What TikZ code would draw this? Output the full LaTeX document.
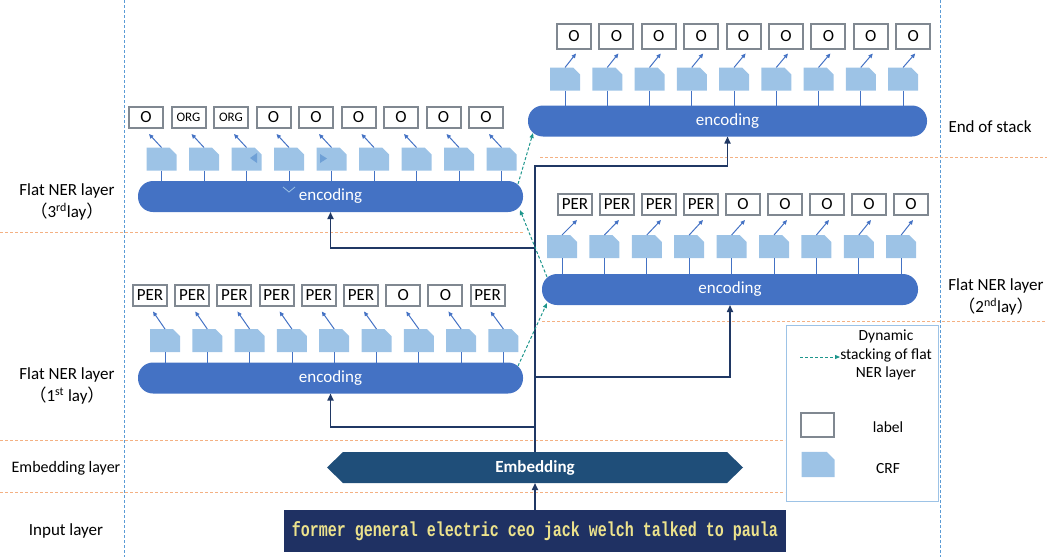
\documentclass[tikz,border=0pt]{standalone}
\usepackage{fontspec}
\usepackage{graphicx}
\setmainfont{Carlito}
\newfontfamily\monofont{Liberation Mono}
\newfontfamily\cjkfont{Noto Sans CJK SC}
\usetikzlibrary{arrows.meta,backgrounds}
\definecolor{encblue}{RGB}{68,114,196}
\definecolor{crfblue}{RGB}{157,195,230}
\definecolor{tricol}{RGB}{111,160,214}
\definecolor{navy}{RGB}{32,56,100}
\definecolor{embblue}{RGB}{31,78,121}
\definecolor{inputnavy}{RGB}{31,49,99}
\definecolor{labgray}{RGB}{128,136,145}
\definecolor{sepblue}{RGB}{91,155,213}
\definecolor{seporange}{RGB}{244,177,131}
\definecolor{dyncol}{RGB}{30,150,140}
\definecolor{inyellow}{RGB}{236,226,140}
\definecolor{legborder}{RGB}{157,195,230}
\newcommand\orgt{{\fontsize{13}{13}\selectfont ORG}}
\tikzset{
  lab/.style={draw=labgray, line width=2pt, fill=white, minimum width=34pt, minimum height=21pt, inner sep=0pt, font=\fontsize{17}{17}\selectfont},
  toplab/.style={lab, minimum height=25pt},
  enc/.style={fill=encblue, rounded corners=15pt, minimum height=31pt, inner sep=0pt, outer sep=0pt, text=white, font=\fontsize{17}{17}\selectfont},
  conn/.style={draw=navy, line width=1.6pt, -{Triangle[length=7pt,width=6pt]}},
  crfarrow/.style={draw=encblue, line width=1pt, -{Triangle[length=4.5pt,width=4pt]}},
  stem/.style={draw=encblue, line width=0.8pt},
  dynarrow/.style={draw=dyncol, dashed, line width=1pt, dash pattern=on 3pt off 2pt, -{Triangle[length=5pt,width=4pt]}},
  vsep/.style={draw=sepblue, line width=0.8pt, dash pattern=on 3pt off 2pt},
  hsep/.style={draw=seporange, line width=0.9pt, dash pattern=on 3pt off 2pt},
  sidelab/.style={align=center, font=\fontsize{17}{22}\selectfont, inner sep=0pt},
  legtxt/.style={align=center, font=\fontsize{15.5}{18.5}\selectfont, inner sep=0pt},
  crfpic/.pic={\fill[crfblue] (-15,11.5) -- (-15,-11.5) -- (8,-11.5) -- (15,-4.5) -- (15,11.5) -- cycle;
    \coordinate (-n) at (0,-11.5); \coordinate (-s) at (0,11.5);}
}
\begin{document}
\begin{tikzpicture}[x=1pt,y=-1pt]
\useasboundingbox (0,0) rectangle (1047,557);
% separators
\draw[vsep] (124,0) -- (124,557);
\draw[vsep] (940,0) -- (940,557);
\draw[hsep] (540,157) -- (1047,157);
\draw[hsep] (0,232) -- (524,232);
\draw[hsep] (542,321) -- (1047,321);
\draw[hsep] (0,440) -- (785,440);
\draw[hsep] (0,492) -- (785,492);

% encodings
\node[enc, minimum width=399pt] (encT) at (727.5,121) {encoding};
\node[enc, minimum width=385pt] (enc3) at (330.5,196.5) {encoding};
\node[enc, minimum width=376pt] (enc2) at (730,289.5) {encoding};
\node[enc, minimum width=385pt] (enc1) at (330.5,378) {encoding};

% top layer (end of stack)
\foreach \t [count=\i from 0] in {O,O,O,O,O,O,O,O,O} {
  \pgfmathsetmacro\lx{574+42.4*\i}
  \pgfmathsetmacro\cx{565+42.25*\i}
  \node[toplab] (lT-\i) at (\lx,36) {\t};
  \pic (cT-\i) at (\cx,79) {crfpic};
  \draw[crfarrow] (cT-\i-n) -- ([xshift=2pt,yshift=-4pt]lT-\i.south);
  \draw[stem] (cT-\i-s) -- (cT-\i-s |- encT.north);
}
% 3rd layer
\foreach \t [count=\i from 0] in {O,\orgt,\orgt,O,O,O,O,O,O} {
  \pgfmathsetmacro\lx{146+42.5*\i}
  \pgfmathsetmacro\cx{161.5+42.5*\i}
  \node[lab] (l3-\i) at (\lx,117.5) {\t};
  \pic (c3-\i) at (\cx,159) {crfpic};
  \draw[crfarrow] (c3-\i-n) -- ([xshift=3pt,yshift=-5pt]l3-\i.south);
  \draw[stem] (c3-\i-s) -- (c3-\i-s |- enc3.north);
}
% small artifacts in 3rd layer
\fill[tricol] (257,153) -- (257,163) -- (250,158) -- cycle;
\fill[tricol] (320,154) -- (320,163) -- (327,158.5) -- cycle;
\draw[crfblue, line width=0.8pt] (283,187) -- (289,192) -- (295,187);
% 2nd layer
\foreach \t [count=\i from 0] in {PER,PER,PER,PER,O,O,O,O,O} {
  \pgfmathsetmacro\lx{575+42*\i}
  \pgfmathsetmacro\cx{562+42.4*\i}
  \node[lab] (l2-\i) at (\lx,204.5) {\t};
  \pic (c2-\i) at (\cx,246.5) {crfpic};
  \draw[crfarrow] (c2-\i-n) -- ([xshift=2pt,yshift=-4pt]l2-\i.south);
  \draw[stem] (c2-\i-s) -- (c2-\i-s |- enc2.north);
}
% 1st layer
\foreach \t [count=\i from 0] in {PER,PER,PER,PER,PER,PER,O,O,PER} {
  \pgfmathsetmacro\lx{150+42.2*\i}
  \pgfmathsetmacro\cx{165+42.3*\i}
  \node[lab] (l1-\i) at (\lx,295) {\t};
  \pic (c1-\i) at (\cx,340.5) {crfpic};
  \draw[crfarrow] (c1-\i-n) -- ([xshift=3pt,yshift=-5pt]l1-\i.south);
  \draw[stem] (c1-\i-s) -- (c1-\i-s |- enc1.north);
}

% embedding and input
\node[minimum width=416pt, minimum height=31pt, inner sep=0pt, outer sep=0pt, text=white, font=\fontsize{17}{17}\selectfont\bfseries] (emb) at (535,467.5) {Embedding};
\begin{scope}[on background layer]
\fill[embblue] (emb.west) -- ([xshift=16pt]emb.north west) -- ([xshift=-16pt]emb.north east) -- (emb.east) -- ([xshift=-16pt]emb.south east) -- ([xshift=16pt]emb.south west) -- cycle;
\end{scope}
\node[fill=inputnavy, minimum width=502pt, minimum height=42pt, inner sep=0pt, outer sep=0pt, text=inyellow, font=\monofont\bfseries\fontsize{15}{15}\selectfont] (inp) at (535,531) {\scalebox{1}[1.35]{former general electric ceo jack welch talked to paula}};
\draw[conn] (inp.north) -- (emb.south);

% trunk connectors
\coordinate (jT) at (535,166);
\coordinate (j3) at (535,248);
\coordinate (j2) at (535,377);
\coordinate (j1) at (535,427);
\draw[conn] (emb.north) -- (jT) -| (encT.south);
\draw[conn] (j3) -| (enc3.south);
\draw[conn] (j2) -| (enc2.south);
\draw[conn] (j1) -| (enc1.south);

% dynamic stacking arrows
\draw[dynarrow] ([xshift=-5pt,yshift=12pt]enc1.east) -- ([xshift=5pt,yshift=-13.5pt]enc2.west);
\draw[dynarrow] ([xshift=5pt,yshift=12.5pt]enc2.west) -- ([xshift=-3pt,yshift=-13.5pt]enc3.east);
\draw[dynarrow] ([xshift=-5pt,yshift=12.5pt]enc3.east) -- ([xshift=5pt,yshift=-12pt]encT.west);

% side labels
\node[sidelab] (s3) at (67,202) {Flat NER layer\\{\cjkfont （}3\textsuperscript{rd}lay{\cjkfont ）}};
\node[sidelab] (s1) at (67,386) {Flat NER layer\\{\cjkfont （}1\textsuperscript{st} lay{\cjkfont ）}};
\node[sidelab] (s2) at (996,297) {Flat NER layer\\{\cjkfont （}2\textsuperscript{nd}lay{\cjkfont ）}};
\node[sidelab] (sT) at (990,127) {End of stack};
\node[sidelab, font=\fontsize{16}{16}\selectfont] (sE) at (66,468) {Embedding layer};
\node[sidelab] (sI) at (66,531) {Input layer};

% legend
\node[draw=legborder, line width=0.9pt, minimum width=152pt, minimum height=176pt, inner sep=0pt] (leg) at (862,413) {};
\node[legtxt] (legdyn) at (886,355) {Dynamic\\stacking of flat\\NER layer};
\coordinate (legstart) at (800,357);
\draw[dynarrow] (legstart) -- (legstart -| legdyn.west);
\node[lab, minimum width=33pt, minimum height=24pt] (leglab) at (817.5,425) {};
\node[legtxt] (leglabt) at (888,427) {label};
\pic[scale=1.1] (legcrf) at (818,464.5) {crfpic};
\node[legtxt] (legcrft) at (888,469) {CRF};
\end{tikzpicture}
\end{document}
